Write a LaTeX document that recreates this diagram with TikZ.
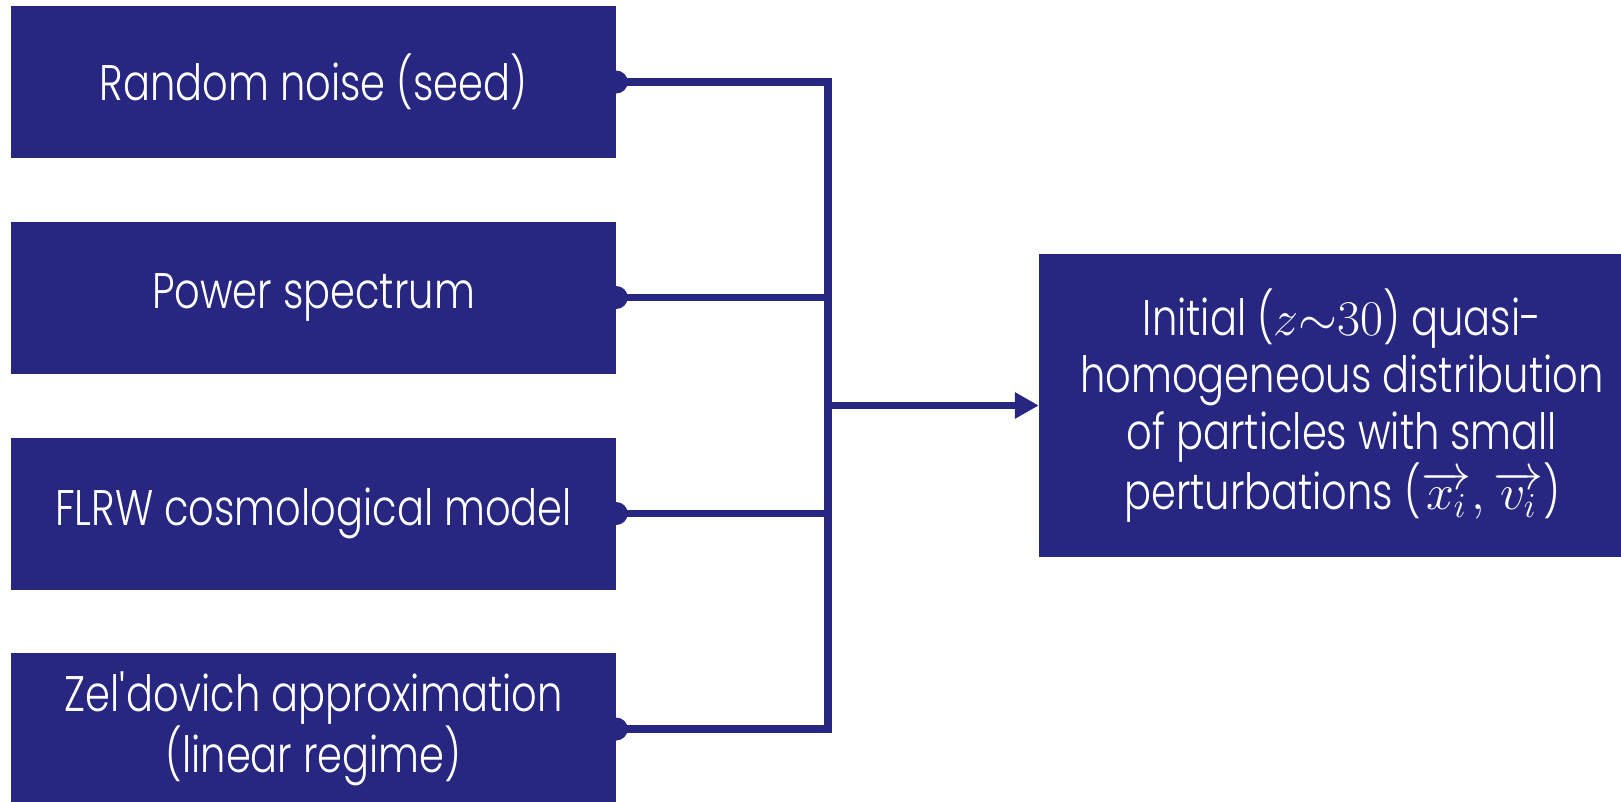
\RequirePackage{fix-cm}
\documentclass[tikz,border=0pt]{standalone}
\usepackage{fontspec}
\setmainfont{Poppins}[FakeStretch=0.8, UprightFont={* Light}]
\usetikzlibrary{arrows.meta}
\definecolor{navy}{RGB}{39,39,130}
\tikzset{
  box/.style={fill=navy, text=white, inner sep=0pt, align=center,
    font=\fontsize{50}{57}\selectfont},
  leftbox/.style={box, minimum width=605pt, minimum height=152pt},
  conn/.style={draw=navy, line width=7.5pt},
  dotc/.style={fill=navy}
}
\begin{document}
\begin{tikzpicture}[x=1pt,y=-1pt]
\clip (0,0) rectangle (1621,801);
\useasboundingbox (0,0) rectangle (1621,801);
\node[leftbox] (b1) at (313.5,82) {Random noise (seed)};
\node[leftbox] (b2) at (313.5,297.5) {Power spectrum};
\node[leftbox] (b3) at (313.5,513.5) {FLRW cosmological model};
\node[leftbox] (b4) at (313.5,729) {Zel\textquotesingle dovich approximation\\(linear regime)};
\node[box, minimum width=606pt, minimum height=303pt] (out) at (1342,405.5)
  {Initial ($z{\sim}30$) quasi-\\homogeneous distribution\\of particles with small\\perturbations ($\overrightarrow{x_i},\overrightarrow{v_i}$)};
\coordinate (bus) at (828,405.5);
\draw[conn] (b1.east) -| (bus) |- (b4.east);
\draw[conn] (b2.east) -- (b2.east -| bus);
\draw[conn] (b3.east) -- (b3.east -| bus);
\draw[conn, -{Triangle[length=24pt,width=25pt]}] (bus) -- (out.west);
\foreach \b in {b1,b2,b3,b4} \fill[dotc] (\b.east) circle (11.5pt);
\end{tikzpicture}
\end{document}
